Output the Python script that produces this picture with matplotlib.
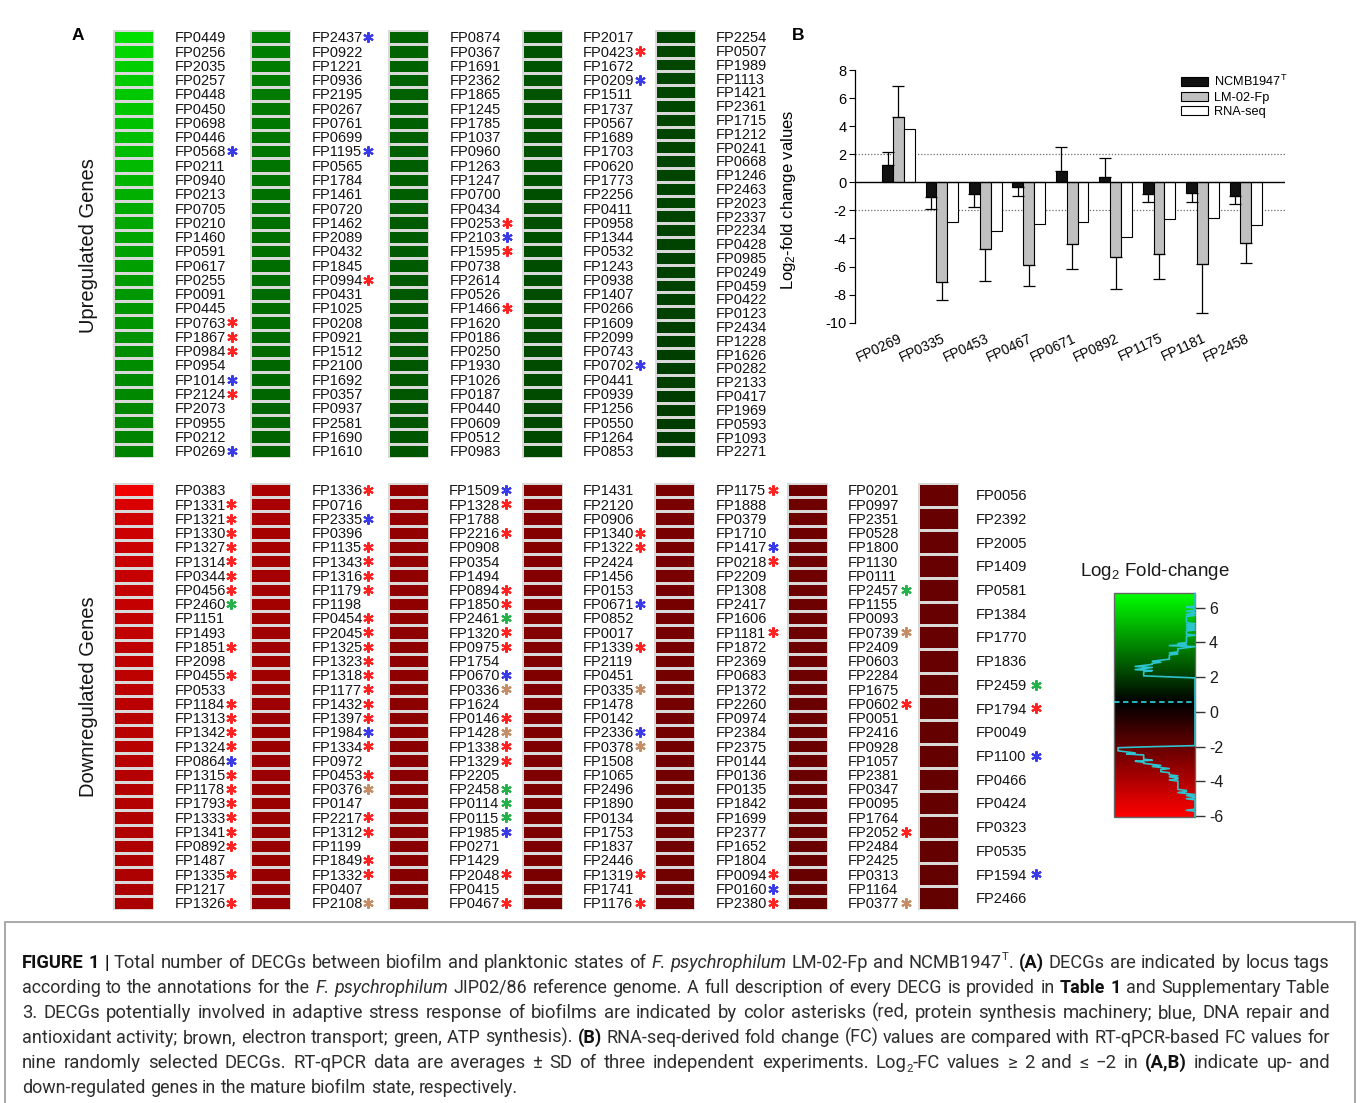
import matplotlib
matplotlib.use('Agg')
import matplotlib.pyplot as plt
import numpy as np
from matplotlib.colors import LinearSegmentedColormap, Normalize
from matplotlib.patches import Patch, Rectangle
from matplotlib.cm import ScalarMappable
from matplotlib import font_manager as fm

plt.rcParams['font.family'] = ['Liberation Sans', 'DejaVu Sans']
plt.rcParams['mathtext.fontset'] = 'custom'
plt.rcParams['mathtext.rm'] = 'Liberation Sans'
plt.rcParams['mathtext.it'] = 'Liberation Sans:italic'
plt.rcParams['mathtext.bf'] = 'Liberation Sans:bold'
plt.rcParams['axes.unicode_minus'] = False

# ------------------------------------------------------------------ data
up_genes_1 = ['FP0449','FP0256','FP2035','FP0257','FP0448','FP0450','FP0698','FP0446','FP0568','FP0211',
              'FP0940','FP0213','FP0705','FP0210','FP1460','FP0591','FP0617','FP0255','FP0091','FP0445',
              'FP0763','FP1867','FP0984','FP0954','FP1014','FP2124','FP2073','FP0955','FP0212','FP0269']
up_genes_2 = ['FP2437','FP0922','FP1221','FP0936','FP2195','FP0267','FP0761','FP0699','FP1195','FP0565',
              'FP1784','FP1461','FP0720','FP1462','FP2089','FP0432','FP1845','FP0994','FP0431','FP1025',
              'FP0208','FP0921','FP1512','FP2100','FP1692','FP0357','FP0937','FP2581','FP1690','FP1610']
up_genes_3 = ['FP0874','FP0367','FP1691','FP2362','FP1865','FP1245','FP1785','FP1037','FP0960','FP1263',
              'FP1247','FP0700','FP0434','FP0253','FP2103','FP1595','FP0738','FP2614','FP0526','FP1466',
              'FP1620','FP0186','FP0250','FP1930','FP1026','FP0187','FP0440','FP0609','FP0512','FP0983']
up_genes_4 = ['FP2017','FP0423','FP1672','FP0209','FP1511','FP1737','FP0567','FP1689','FP1703','FP0620',
              'FP1773','FP2256','FP0411','FP0958','FP1344','FP0532','FP1243','FP0938','FP1407','FP0266',
              'FP1609','FP2099','FP0743','FP0702','FP0441','FP0939','FP1256','FP0550','FP1264','FP0853']
up_genes_5 = ['FP2254','FP0507','FP1989','FP1113','FP1421','FP2361','FP1715','FP1212','FP0241','FP0668',
              'FP1246','FP2463','FP2023','FP2337','FP2234','FP0428','FP0985','FP0249','FP0459','FP0422',
              'FP0123','FP2434','FP1228','FP1626','FP0282','FP2133','FP0417','FP1969','FP0593','FP1093','FP2271']

up_vals_1 = [6.05, 5.80, 5.62, 5.50, 5.44, 5.38, 5.30, 5.24, 5.18, 5.10, 4.98, 4.86, 4.76, 4.66, 4.58,
             4.50, 4.44, 4.36, 4.30, 4.24, 4.18, 4.12, 4.06, 4.00, 3.95, 3.90, 3.86, 3.83, 3.80, 3.78]
up_vals_2 = [3.68, 3.64, 3.60, 3.57, 3.54, 3.51, 3.48, 3.46, 3.43, 3.41, 3.38, 3.36, 3.34, 3.31, 3.29,
             3.27, 3.25, 3.23, 3.21, 3.19, 3.17, 3.15, 3.13, 3.11, 3.09, 3.07, 3.05, 3.03, 3.01, 2.99]
up_vals_3 = [2.97, 2.96, 2.94, 2.93, 2.92, 2.90, 2.89, 2.88, 2.86, 2.85, 2.84, 2.82, 2.81, 2.80, 2.79,
             2.77, 2.76, 2.75, 2.74, 2.73, 2.71, 2.70, 2.69, 2.68, 2.67, 2.66, 2.65, 2.64, 2.63, 2.62]
up_vals_4 = [2.61, 2.60, 2.59, 2.58, 2.58, 2.56, 2.55, 2.54, 2.54, 2.52, 2.51, 2.50, 2.49, 2.49, 2.47,
             2.46, 2.45, 2.45, 2.43, 2.42, 2.41, 2.40, 2.40, 2.38, 2.37, 2.36, 2.35, 2.34, 2.33, 2.32]
up_vals_5 = [2.31, 2.30, 2.29, 2.28, 2.27, 2.27, 2.25, 2.24, 2.23, 2.22, 2.21, 2.20, 2.20, 2.18, 2.17, 2.16,
             2.15, 2.14, 2.13, 2.13, 2.11, 2.10, 2.09, 2.08, 2.07, 2.07, 2.05, 2.04, 2.03, 2.02, 2.01]

dn_genes_1 = ['FP0383','FP1331','FP1321','FP1330','FP1327','FP1314','FP0344','FP0456','FP2460','FP1151',
              'FP1493','FP1851','FP2098','FP0455','FP0533','FP1184','FP1313','FP1342','FP1324','FP0864',
              'FP1315','FP1178','FP1793','FP1333','FP1341','FP0892','FP1487','FP1335','FP1217','FP1326']
dn_genes_2 = ['FP1336','FP0716','FP2335','FP0396','FP1135','FP1343','FP1316','FP1179','FP1198','FP0454',
              'FP2045','FP1325','FP1323','FP1318','FP1177','FP1432','FP1397','FP1984','FP1334','FP0972',
              'FP0453','FP0376','FP0147','FP2217','FP1312','FP1199','FP1849','FP1332','FP0407','FP2108']
dn_genes_3 = ['FP1509','FP1328','FP1788','FP2216','FP0908','FP0354','FP1494','FP0894','FP1850','FP2461',
              'FP1320','FP0975','FP1754','FP0670','FP0336','FP1624','FP0146','FP1428','FP1338','FP1329',
              'FP2205','FP2458','FP0114','FP0115','FP1985','FP0271','FP1429','FP2048','FP0415','FP0467']
dn_genes_4 = ['FP1431','FP2120','FP0906','FP1340','FP1322','FP2424','FP1456','FP0153','FP0671','FP0852',
              'FP0017','FP1339','FP2119','FP0451','FP0335','FP1478','FP0142','FP2336','FP0378','FP1508',
              'FP1065','FP2496','FP1890','FP0134','FP1753','FP1837','FP2446','FP1319','FP1741','FP1176']
dn_genes_5 = ['FP1175','FP1888','FP0379','FP1710','FP1417','FP0218','FP2209','FP1308','FP2417','FP1606',
              'FP1181','FP1872','FP2369','FP0683','FP1372','FP2260','FP0974','FP2384','FP2375','FP0144',
              'FP0136','FP0135','FP1842','FP1699','FP2377','FP1652','FP1804','FP0094','FP0160','FP2380']
dn_genes_6 = ['FP0201','FP0997','FP2351','FP0528','FP1800','FP1130','FP0111','FP2457','FP1155','FP0093',
              'FP0739','FP2409','FP0603','FP2284','FP1675','FP0602','FP0051','FP2416','FP0928','FP1057',
              'FP2381','FP0347','FP0095','FP1764','FP2052','FP2484','FP2425','FP0313','FP1164','FP0377']
dn_genes_7 = ['FP0056','FP2392','FP2005','FP1409','FP0581','FP1384','FP1770','FP1836','FP2459','FP1794',
              'FP0049','FP1100','FP0466','FP0424','FP0323','FP0535','FP1594','FP2466']

dn_vals_1 = [-5.70, -5.02, -4.82, -4.74, -4.68, -4.63, -4.58, -4.54, -4.50, -4.46, -4.42, -4.39, -4.36, -4.33, -4.30,
             -4.27, -4.24, -4.21, -4.18, -4.15, -4.12, -4.10, -4.07, -4.04, -4.02, -3.99, -3.96, -3.94, -3.91, -3.89]
dn_vals_2 = [-3.86, -3.83, -3.80, -3.78, -3.75, -3.73, -3.70, -3.68, -3.66, -3.63, -3.61, -3.59, -3.57, -3.55, -3.53,
             -3.51, -3.49, -3.47, -3.46, -3.45, -3.44, -3.42, -3.40, -3.38, -3.37, -3.35, -3.34, -3.32, -3.31, -3.30]
dn_vals_3 = [-3.27, -3.25, -3.24, -3.22, -3.21, -3.20, -3.18, -3.17, -3.16, -3.14, -3.13, -3.12, -3.10, -3.09, -3.08,
             -3.06, -3.05, -3.04, -3.03, -3.01, -3.00, -2.99, -2.98, -2.97, -2.96, -2.95, -2.94, -2.93, -2.92, -2.91]
dn_vals_4 = [-2.90, -2.89, -2.88, -2.87, -2.86, -2.85, -2.84, -2.83, -2.83, -2.81, -2.80, -2.79, -2.78, -2.77, -2.76,
             -2.75, -2.74, -2.73, -2.72, -2.71, -2.70, -2.69, -2.68, -2.67, -2.66, -2.65, -2.64, -2.63, -2.62, -2.61]
dn_vals_5 = [-2.60, -2.59, -2.58, -2.57, -2.56, -2.55, -2.54, -2.53, -2.52, -2.51, -2.50, -2.49, -2.48, -2.47, -2.46,
             -2.46, -2.45, -2.44, -2.43, -2.42, -2.41, -2.41, -2.40, -2.39, -2.38, -2.37, -2.37, -2.36, -2.35, -2.34]
dn_vals_6 = [-2.33, -2.33, -2.32, -2.31, -2.30, -2.30, -2.29, -2.28, -2.27, -2.27, -2.26, -2.25, -2.25, -2.24, -2.23,
             -2.23, -2.22, -2.21, -2.21, -2.20, -2.19, -2.19, -2.18, -2.17, -2.17, -2.16, -2.15, -2.15, -2.14, -2.13]
dn_vals_7 = [-2.13, -2.12, -2.11, -2.11, -2.10, -2.09, -2.09, -2.08, -2.07, -2.07, -2.06, -2.05, -2.05, -2.04,
             -2.03, -2.03, -2.02, -2.01]

# asterisk categories: r protein synthesis, b DNA repair, n electron transport (brown), g ATP synthesis
up_stars_1 = {'r': ['FP0763', 'FP1867', 'FP0984', 'FP2124'], 'b': ['FP0568', 'FP1014', 'FP0269']}
up_stars_2 = {'r': ['FP0994'], 'b': ['FP2437', 'FP1195']}
up_stars_3 = {'r': ['FP0253', 'FP1595', 'FP1466'], 'b': ['FP2103']}
up_stars_4 = {'r': ['FP0423'], 'b': ['FP0209', 'FP0702']}
up_stars_5 = {}
dn_stars_1 = {'r': ['FP1331','FP1321','FP1330','FP1327','FP1314','FP0344','FP0456','FP1851','FP0455','FP1184',
                    'FP1313','FP1342','FP1324','FP1315','FP1178','FP1793','FP1333','FP1341','FP0892','FP1335','FP1326'],
              'g': ['FP2460'], 'b': ['FP0864']}
dn_stars_2 = {'r': ['FP1336','FP1135','FP1343','FP1316','FP1179','FP0454','FP2045','FP1325','FP1323','FP1318',
                    'FP1177','FP1432','FP1397','FP1334','FP0453','FP2217','FP1312','FP1849','FP1332'],
              'b': ['FP2335', 'FP1984'], 'n': ['FP0376', 'FP2108']}
dn_stars_3 = {'r': ['FP1328','FP2216','FP0894','FP1850','FP1320','FP0975','FP0146','FP1338','FP1329','FP2048','FP0467'],
              'b': ['FP1509', 'FP0670', 'FP1985'], 'g': ['FP2461', 'FP2458', 'FP0114', 'FP0115'],
              'n': ['FP0336', 'FP1428']}
dn_stars_4 = {'r': ['FP1340', 'FP1322', 'FP1339', 'FP1319', 'FP1176'], 'b': ['FP0671', 'FP2336'],
              'n': ['FP0335', 'FP0378']}
dn_stars_5 = {'r': ['FP1175', 'FP0218', 'FP1181', 'FP0094', 'FP2380'], 'b': ['FP1417', 'FP0160']}
dn_stars_6 = {'r': ['FP0602', 'FP2052'], 'g': ['FP2457'], 'n': ['FP0739', 'FP0377']}
dn_stars_7 = {'r': ['FP1794'], 'g': ['FP2459'], 'b': ['FP1100', 'FP1594']}

# panel B
b_genes = ['FP0269', 'FP0335', 'FP0453', 'FP0467', 'FP0671', 'FP0892', 'FP1175', 'FP1181', 'FP2458']
b_ncmb = [1.24, -1.07, -0.86, -0.33, 0.83, 0.40, -0.81, -0.74, -0.95]
b_ncmb_sd = [0.90, 0.85, 0.92, 0.64, 1.66, 1.35, 0.62, 0.66, 0.62]
b_lm = [4.66, -7.08, -4.77, -5.91, -4.37, -5.34, -5.13, -5.84, -4.32]
b_lm_sd = [2.18, 1.30, 2.26, 1.45, 1.80, 2.23, 1.73, 3.45, 1.40]
b_rnaseq = [3.78, -2.83, -3.47, -2.99, -2.85, -3.90, -2.64, -2.57, -3.06]
b_series = ['NCMB1947$^{\\mathrm{T}}$', 'LM-02-Fp', 'RNA-seq']
cbar_ticks = [-6, -4, -2, 0, 2, 4, 6]

# ------------------------------------------------------------------ layout
W, H = 1360, 1103
fig = plt.figure(figsize=(W / 100, H / 100), dpi=100)
fig.patch.set_facecolor('white')


def box(x0, y0, x1, y1):
    return [x0 / W, 1 - y1 / H, (x1 - x0) / W, (y1 - y0) / H]


VMIN, VMID, VMAX = -6.06, 0.55, 6.84
cmap = LinearSegmentedColormap.from_list(
    'rg', [(0.0, '#ff0000'), ((VMID - VMIN) / (VMAX - VMIN), '#000000'), (1.0, '#00ff00')])
norm = Normalize(VMIN, VMAX)
STAR_COL = {'r': '#ff2222', 'b': '#3a3ae6', 'n': '#c58d66', 'g': '#25b04a'}
LAB_FS = 10.5


def heat_col(x0, y0, y1, vals):
    ax = fig.add_axes(box(x0, y0, x0 + 41, y1))
    ax.pcolormesh(np.array(vals)[:, None], cmap=cmap, norm=norm,
                  edgecolors='#d9d9d9', linewidth=1.0)
    ax.set_xlim(0, 1)
    ax.set_ylim(len(vals), 0)
    ax.axis('off')


def label_col(x0, y0, y1, genes, stars, star_dx=56.5):
    n = len(genes)
    ax = fig.add_axes(box(x0, y0, x0 + 80, y1))
    ax.set_xlim(0, 80)
    ax.set_ylim(n, 0)
    ax.axis('off')
    pitch = (y1 - y0) / n
    cap_half = 0.716 * LAB_FS * 100 / 72 / 2
    for i, g in enumerate(genes):
        ax.text(0, i + 0.5 + cap_half / pitch, g, ha='left', va='baseline',
                fontsize=LAB_FS, color='#141414')
    for key, lst in stars.items():
        idx = np.array([genes.index(g) for g in lst]) + 0.5
        ax.plot(np.full(len(idx), star_dx), idx, ls='none', marker=(6, 2, 0),
                ms=7.5, mew=1.5, color=STAR_COL[key], clip_on=False)


UP_Y = (30, 458)
up_cols = [(113, 175, up_genes_1, up_vals_1, up_stars_1),
           (250, 312, up_genes_2, up_vals_2, up_stars_2),
           (388, 450, up_genes_3, up_vals_3, up_stars_3),
           (522, 583, up_genes_4, up_vals_4, up_stars_4),
           (655, 716, up_genes_5, up_vals_5, up_stars_5)]
for hx, lx, genes, vals, stars in up_cols:
    heat_col(hx, UP_Y[0], UP_Y[1], vals)
    label_col(lx, UP_Y[0], UP_Y[1], genes, stars)

DN_Y = (483, 910)
dn_cols = [(113, 175, dn_genes_1, dn_vals_1, dn_stars_1, 56.0),
           (250, 312, dn_genes_2, dn_vals_2, dn_stars_2, 56.5),
           (388, 449, dn_genes_3, dn_vals_3, dn_stars_3, 56.5),
           (522, 583, dn_genes_4, dn_vals_4, dn_stars_4, 57.0),
           (654, 716, dn_genes_5, dn_vals_5, dn_stars_5, 57.0),
           (787, 848, dn_genes_6, dn_vals_6, dn_stars_6, 57.5),
           (918, 976, dn_genes_7, dn_vals_7, dn_stars_7, 59.5)]
for hx, lx, genes, vals, stars, sdx in dn_cols:
    heat_col(hx, DN_Y[0], DN_Y[1], vals)
    label_col(lx, DN_Y[0], DN_Y[1], genes, stars, sdx)

fig.text(88 / W, 1 - 246 / H, 'Upregulated Genes', rotation=90, ha='center', va='center',
         fontsize=14.5, color='#141414')
fig.text(88 / W, 1 - 697 / H, 'Downregulated Genes', rotation=90, ha='center', va='center',
         fontsize=14.5, color='#141414')
fig.text(78 / W, 1 - 36 / H, 'A', ha='center', va='center', fontsize=12.5, fontweight='bold')
fig.text(798 / W, 1 - 35 / H, 'B', ha='center', va='center', fontsize=12.5, fontweight='bold')

# ------------------------------------------------------------------ panel B
axb = fig.add_axes(box(855, 70, 1285, 322.7))
xg = np.arange(len(b_genes))
bw = 0.25


def one_sided(vals, sd):
    lo = [s if v < 0 else 0 for v, s in zip(vals, sd)]
    hi = [s if v > 0 else 0 for v, s in zip(vals, sd)]
    return [lo, hi]


ekw = dict(elinewidth=0.9, capthick=0.9, ecolor='black')
axb.bar(xg - bw, b_ncmb, bw, color='#111111', edgecolor='black', linewidth=0.8,
        yerr=one_sided(b_ncmb, b_ncmb_sd), capsize=4.5, error_kw=ekw, zorder=3)
axb.bar(xg, b_lm, bw, color='#c0c0c0', edgecolor='black', linewidth=0.8,
        yerr=one_sided(b_lm, b_lm_sd), capsize=4.5, error_kw=ekw, zorder=3)
axb.bar(xg + bw, b_rnaseq, bw, color='white', edgecolor='black', linewidth=0.8, zorder=3)
axb.axhline(0, color='black', lw=1.0, zorder=4)
for yv in (2, -2):
    axb.axhline(yv, color='#6a6a6a', lw=0.9, ls=(0, (1, 1.5)), zorder=1)
axb.set_xlim(-1.0, 8.9)
axb.set_ylim(-10, 8)
axb.set_yticks(range(-10, 9, 2))
axb.set_xticks(xg)
axb.set_xticklabels(b_genes, rotation=25, ha='right', rotation_mode='anchor', fontsize=10)
axb.tick_params(axis='x', length=0, pad=6)
axb.tick_params(axis='y', length=4, width=0.8, labelsize=10.5, pad=2)
for s in ('top', 'right', 'bottom'):
    axb.spines[s].set_visible(False)
axb.spines['left'].set_linewidth(0.9)
axb.set_ylabel('Log$_2$-fold change values', fontsize=12)
axb.yaxis.set_label_coords((798 - 855) / 430, (322.7 - 200) / 252.7)
axb.patch.set_alpha(0)

handles = [Patch(facecolor=c, edgecolor='black', linewidth=0.8, label=l)
           for c, l in zip(['#111111', '#c0c0c0', 'white'], b_series)]
fig.legend(handles=handles, loc='upper left', bbox_to_anchor=(1181 / W, 1 - 74 / H),
           frameon=False, fontsize=9.2, handlelength=2.1, handleheight=0.72,
           handletextpad=0.5, labelspacing=0.2, borderpad=0, borderaxespad=0)

# ------------------------------------------------------------------ colour key
CB = (1114, 593, 1195, 817)
cax = fig.add_axes(box(*CB))
cb = fig.colorbar(ScalarMappable(norm=norm, cmap=cmap), cax=cax, ticks=cbar_ticks)
cb.outline.set_edgecolor('#666666')
cb.outline.set_linewidth(1.0)
cax.tick_params(length=7, width=1, colors='#333333', labelsize=11.5, pad=3)
cax.set_yticklabels([str(t) for t in cbar_ticks])
for lab in cax.get_yticklabels():
    lab.set_color('#1a1a1a')

hax = fig.add_axes(box(*CB))
hax.set_xlim(0, 1)
hax.set_ylim(VMIN, VMAX)
hax.axis('off')
all_vals = np.concatenate([up_vals_1, up_vals_2, up_vals_3, up_vals_4, up_vals_5,
                           dn_vals_1, dn_vals_2, dn_vals_3, dn_vals_4, dn_vals_5, dn_vals_6, dn_vals_7])
edges = np.arange(VMIN, VMAX + 0.04, 0.06)
counts, edges = np.histogram(all_vals, bins=edges)
centers = (edges[:-1] + edges[1:]) / 2
xs = 1 - 0.95 * counts / counts.max()
hax.plot(xs, centers, color='#2cc5cf', lw=1.2, clip_on=False)
hax.axhline(VMID, color='#2cc5cf', lw=1.3, ls=(0, (3, 2)))
fig.text(1155 / W, 1 - 572 / H, 'Log$_2$ Fold-change', ha='center', va='center',
         fontsize=13.5, color='#1a1a1a')

# ------------------------------------------------------------------ caption
fig.patches.append(Rectangle((5 / W, -0.01), (1355 - 5) / W, 0.01 + (H - 922) / H,
                             transform=fig.transFigure, fill=False,
                             edgecolor='#9a9a9a', linewidth=1.2))

names = {f.name for f in fm.fontManager.ttflist}
cap_main = 'Liberation Sans Narrow' if 'Liberation Sans Narrow' in names else 'Roboto'
CAP_FAM = [cap_main, 'Liberation Sans', 'DejaVu Sans']

cap_lines = [
    [("FIGURE 1 |", 'b', 1), ("Total number of DECGs between biofilm and planktonic states of", 'n', 1),
     ("F. psychrophilum", 'i', 1), ("LM-02-Fp and NCMB1947", 'n', 0), ("T", 'sup', 0), (".", 'n', 1),
     ("(A)", 'b', 1), ("DECGs are indicated by locus tags", 'n', 0)],
    [("according to the annotations for the", 'n', 1), ("F. psychrophilum", 'i', 1),
     ("JIP02/86 reference genome. A full description of every DECG is provided in", 'n', 1),
     ("Table 1", 'b', 1), ("and Supplementary Table", 'n', 0)],
    [("3. DECGs potentially involved in adaptive stress response of biofilms are indicated by color "
      "asterisks (red, protein synthesis machinery; blue, DNA repair and", 'n', 0)],
    [("antioxidant activity; brown, electron transport; green, ATP synthesis).", 'n', 1), ("(B)", 'b', 1),
     ("RNA-seq-derived fold change (FC) values are compared with RT-qPCR-based FC values for", 'n', 0)],
    [("nine randomly selected DECGs. RT-qPCR data are averages \u00b1 SD of three independent "
      "experiments. Log", 'n', 0), ("2", 'sub', 0), ("-FC values \u2265 2 and \u2264 \u22122 in", 'n', 1),
     ("(A,B)", 'b', 1), ("indicate up- and", 'n', 0)],
    [("down-regulated genes in the mature biofilm state, respectively.", 'n', 0)],
]
cap_base = [968, 993, 1018, 1043, 1068, 1093]
CAP_X0, CAP_X1 = 22, 1330

renderer = fig.canvas.get_renderer()


def tokens_of(segs):
    toks = []
    glue = False
    for text, style, gap_after in segs:
        words = [w for w in text.split(' ') if w]
        for j, wd in enumerate(words):
            toks.append((wd, style, glue if j == 0 else False))
        glue = not gap_after
    return toks


def style_kw(style, size):
    kw = dict(fontsize=size, family=CAP_FAM, color='#2e2e2e')
    dy = 0.0
    if style == 'b':
        kw['fontweight'] = 'bold'
        kw['color'] = '#111111'
    elif style == 'i':
        kw['fontstyle'] = 'italic'
    elif style == 'sup':
        kw['fontsize'] = size * 0.62
        dy = 0.45 * size * 100 / 72
    elif style == 'sub':
        kw['fontsize'] = size * 0.62
        dy = -0.2 * size * 100 / 72
    return kw, dy


def measure(s, style, size):
    kw, _ = style_kw(style, size)
    t = fig.text(0, 0, s, **kw)
    w = t.get_window_extent(renderer).width
    t.remove()
    return w


def natural(toks, size):
    ws = [measure(t[0], t[1], size) for t in toks]
    sp = measure('a a', 'n', size) - measure('aa', 'n', size)
    ngap = sum(1 for k, t in enumerate(toks) if k > 0 and not t[2])
    return ws, sp, ngap


all_toks = [tokens_of(l) for l in cap_lines]
s0 = 10.0
line_sizes = []
for toks in all_toks[:5]:
    ws, sp, ng = natural(toks, s0)
    line_sizes.append(s0 * (CAP_X1 - CAP_X0) / (sum(ws) + sp * ng) * 0.99)
base_size = min(line_sizes)

for li, toks in enumerate(all_toks):
    size = base_size if li >= 5 else min(line_sizes[li], base_size * 1.03)
    ws, sp, ng = natural(toks, size)
    gap = sp if li == len(all_toks) - 1 else ((CAP_X1 - CAP_X0) - sum(ws)) / max(ng, 1)
    x = CAP_X0
    for k, (wd, st, glue) in enumerate(toks):
        if k > 0 and not glue:
            x += gap
        kw, dy = style_kw(st, size)
        fig.text(x / W, 1 - (cap_base[li] - dy) / H, wd, ha='left', va='baseline', **kw)
        x += ws[k]

fig.savefig('out.png', dpi=100, facecolor='white')
